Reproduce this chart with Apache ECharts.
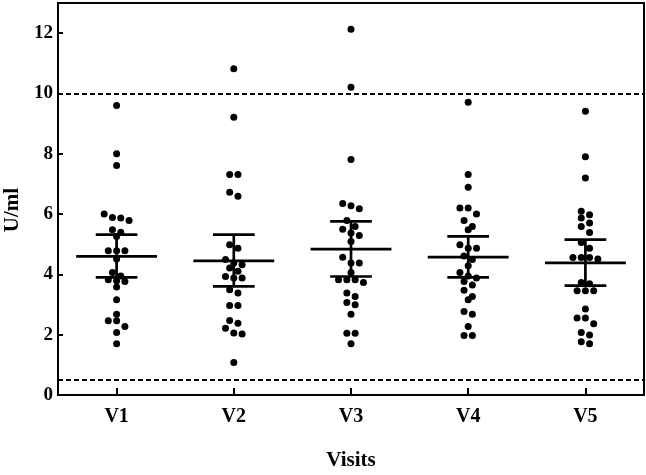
<!DOCTYPE html>
<html>
<head>
<meta charset="utf-8">
<script src="https://cdn.jsdelivr.net/npm/echarts@6/dist/echarts.min.js"></script>
<style>html,body{margin:0;padding:0;background:#fff;}#c{width:646px;height:475px;}</style>
</head>
<body>
<div id="c"></div>
<script>
const categories = ['V1', 'V2', 'V3', 'V4', 'V5'];
const v1 = [9.60, 8.00, 7.61, 6.00, 5.89, 5.79, 5.87, 5.40, 5.48, 5.26, 4.78, 4.78, 4.78, 4.51, 3.95, 3.82, 3.79, 4.06, 3.76, 3.58, 3.16, 2.68, 2.46, 2.46, 2.27, 2.07, 1.70];
const v2 = [10.82, 9.21, 7.31, 7.31, 6.72, 6.59, 4.98, 4.87, 4.49, 4.38, 4.32, 4.21, 4.10, 3.88, 3.88, 3.93, 3.49, 3.38, 2.97, 2.97, 2.47, 2.38, 2.21, 2.06, 2.02, 1.08];
const v3 = [12.13, 10.21, 7.81, 6.28, 6.35, 6.18, 5.79, 5.59, 5.50, 5.37, 5.29, 5.09, 4.57, 4.38, 4.38, 4.06, 3.82, 3.82, 3.73, 3.82, 3.38, 3.27, 3.07, 2.99, 2.68, 2.05, 2.05, 1.70];
const v4 = [9.71, 7.31, 6.89, 6.20, 6.20, 6.00, 5.79, 5.59, 5.48, 4.98, 4.87, 4.87, 4.61, 4.49, 4.29, 4.06, 3.95, 3.88, 3.76, 3.65, 3.47, 3.27, 3.16, 2.77, 2.68, 2.27, 1.97, 1.97];
const v5 = [9.41, 7.90, 7.20, 6.09, 5.98, 5.87, 5.70, 5.59, 5.39, 5.06, 4.87, 4.56, 4.51, 4.56, 4.56, 3.73, 3.69, 3.46, 3.46, 3.46, 2.85, 2.55, 2.55, 2.36, 2.07, 1.99, 1.77, 1.70];
const groups = [v1, v2, v3, v4, v5];
const means = [4.60, 4.45, 4.84, 4.57, 4.38];
const ciLow = [3.90, 3.60, 3.93, 3.90, 3.63];
const ciHigh = [5.32, 5.32, 5.76, 5.26, 5.15];
const refLines = [10, 0.5];
const yTicks = [0, 2, 4, 6, 8, 10, 12];

const W = 646, H = 475;
const G = { left: 58, right: 2, top: 3, bottom: 80 };
const Y_MAX = 13;
const pxPerUnit = (H - G.top - G.bottom) / Y_MAX;
const bandPx = (W - G.left - G.right) / categories.length;

// simple row-based beeswarm layout
function swarm(values) {
  const idx = values.map((v, i) => i).sort((a, b) => values[b] - values[a]);
  const offs = new Array(values.length).fill(0);
  let row = [];
  const flush = () => {
    const n = row.length;
    row.forEach((k, j) => { offs[k] = (j - (n - 1) / 2) * 8.3 / bandPx; });
    row = [];
  };
  for (const k of idx) {
    if (row.length && (values[row[0]] - values[k]) * pxPerUnit > 6.5) flush();
    row.push(k);
  }
  flush();
  return offs;
}

const scatterData = [];
groups.forEach((vals, gi) => {
  const offs = swarm(vals);
  vals.forEach((v, i) => scatterData.push([gi + offs[i], v]));
});
const barData = categories.map((c, i) => [i, means[i], ciLow[i], ciHigh[i]]);

const FONT = 'Liberation Serif';
const chart = echarts.init(document.getElementById('c'), null, { renderer: 'canvas' });
chart.setOption({
  animation: false,
  backgroundColor: '#fff',
  grid: { left: G.left, right: G.right, top: G.top, bottom: G.bottom, show: true, borderColor: '#000', borderWidth: 2, containLabel: false, outerBoundsMode: 'none' },
  xAxis: [
    {
      type: 'category', data: categories, boundaryGap: true,
      name: 'Visits', nameLocation: 'middle', nameGap: 55,
      nameTextStyle: { fontFamily: FONT, fontWeight: 'bold', fontSize: 21, color: '#000' },
      axisLine: { show: true, onZero: false, lineStyle: { color: '#000', width: 2 } },
      axisTick: { show: true, inside: true, length: 7, alignWithLabel: true, lineStyle: { color: '#000', width: 2 } },
      axisLabel: { margin: 12, fontFamily: FONT, fontWeight: 'bold', fontSize: 20, color: '#000' },
      splitLine: { show: false }
    },
    {
      type: 'value', min: -0.5, max: categories.length - 0.5, show: false
    }
  ],
  yAxis: {
    type: 'value', min: 0, max: Y_MAX,
    name: 'U/ml', nameLocation: 'middle', nameGap: 22,
    nameTextStyle: { fontFamily: FONT, fontWeight: 'bold', fontSize: 21, color: '#000', padding: [0, 22, 0, 0] },
    axisLine: { show: true, onZero: false, lineStyle: { color: '#000', width: 2 } },
    axisTick: { show: true, inside: true, length: 5, customValues: yTicks, lineStyle: { color: '#000', width: 2 } },
    axisLabel: { margin: 5, customValues: yTicks, fontFamily: FONT, fontWeight: 'bold', fontSize: 19, color: '#000' },
    splitLine: { show: false }
  },
  series: [
    {
      type: 'scatter', xAxisIndex: 1, data: scatterData, symbol: 'circle', symbolSize: 7,
      itemStyle: { color: '#000', opacity: 1 },
      markLine: {
        silent: true, symbol: ['none', 'none'], label: { show: false },
        lineStyle: { color: '#000', width: 2, type: [5, 3] },
        data: refLines.map(v => ({ yAxis: v }))
      }
    },
    {
      type: 'custom', xAxisIndex: 1, data: barData,
      encode: { x: 0, y: [1, 2, 3] },
      renderItem: function (params, api) {
        const x = api.value(0), m = api.value(1), lo = api.value(2), hi = api.value(3);
        const style = { stroke: '#000', lineWidth: 2.7 };
        const seg = (a, b) => ({ type: 'line', shape: { x1: a[0], y1: a[1], x2: b[0], y2: b[1] }, style: style });
        return {
          type: 'group',
          children: [
            seg(api.coord([x - 0.345, m]), api.coord([x + 0.345, m])),
            seg(api.coord([x, lo]), api.coord([x, hi])),
            seg(api.coord([x - 0.178, lo]), api.coord([x + 0.178, lo])),
            seg(api.coord([x - 0.178, hi]), api.coord([x + 0.178, hi]))
          ]
        };
      }
    }
  ]
});
</script>
</body>
</html>
